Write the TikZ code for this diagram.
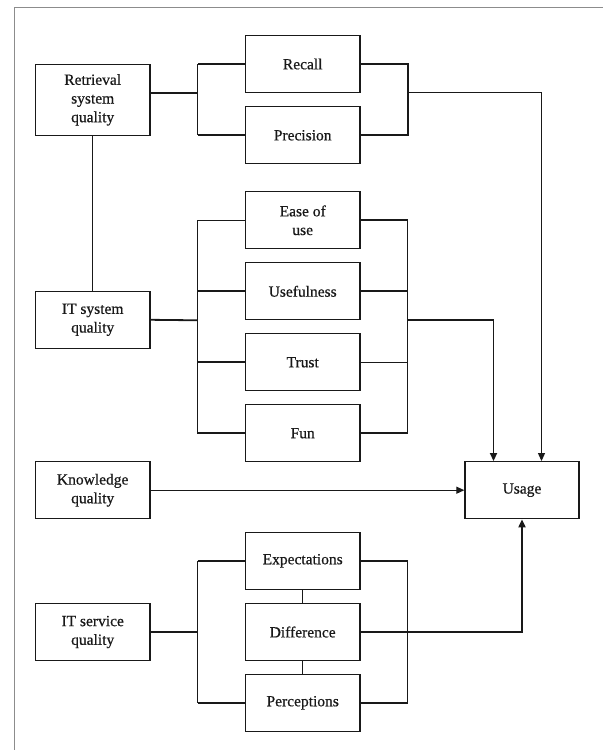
\documentclass[tikz,border=0pt]{standalone}
\usepackage{fontspec}
\setmainfont[FakeBold=0.5]{Liberation Serif}
\newfontfamily\boxfont[FakeBold=0.6]{Liberation Serif}
\usetikzlibrary{arrows.meta}
\begin{document}
\begin{tikzpicture}[x=1pt,y=1pt,
  box/.style={draw=black!90,line width=1.3pt,minimum width=114.6pt,minimum height=57pt,inner sep=1pt,align=center,
    font=\boxfont\fontsize{15.5pt}{18.7pt}\selectfont,text=black!90},
  thk/.style={line width=1.8pt,draw=black!90},
  thn/.style={line width=1.1pt,draw=black!90},
  arr/.style={-{Triangle[length=8pt,width=7pt]}}]
\useasboundingbox (0,0) rectangle (603,-750);
\fill[white] (0,0) rectangle (603,-750);
\draw[line width=1pt,draw=black!45] (14.6,-750) -- (14.6,-7.3) -- (603,-7.3);
% left boxes
\node[box,minimum height=71pt] (ret) at (92.7,-99.8) {Retrieval\\system\\quality};
\node[box] (itsys) at (92.7,-319.8) {IT system\\quality};
\node[box] (know) at (92.7,-490.2) {Knowledge\\quality};
\node[box] (itserv) at (92.7,-632) {IT service\\quality};
% middle boxes
\node[box] (recall) at (302.7,-64) {Recall};
\node[box] (prec) at (302.7,-135.3) {Precision};
\node[box] (ease) at (302.7,-220.3) {Ease of\\use};
\node[box] (useful) at (302.7,-291.3) {Usefulness};
\node[box] (trust) at (302.7,-362.3) {Trust};
\node[box] (fun) at (302.7,-433.2) {Fun};
\node[box] (expect) at (302.7,-560.8) {Expectations};
\node[box] (diff) at (302.7,-632) {Difference};
\node[box] (perc) at (302.7,-702.8) {Perceptions};
% usage
\node[box,minimum width=114pt] (usage) at (522,-490.2) {Usage};
% bracket coordinates
\coordinate (b1l) at (197.7,-92.7);
\coordinate (b1r) at (407.7,-92.7);
\coordinate (b2l) at (197.7,-320.3);
\coordinate (b2r) at (407.7,-320.3);
\coordinate (b3l) at (197.7,-632);
\coordinate (b3r) at (407.7,-632);
% group 1
\draw[thk] ([yshift=7.1pt]ret.east) -- (b1l);
\draw[thn] (b1l |- recall.west) -- (b1l |- prec.west);
\draw[thk] (recall.west) -- (b1l |- recall.west);
\draw[thk] (prec.west) -- (b1l |- prec.west);
\draw[thk] (recall.east) -| (b1r) |- (prec.east);
\draw[thn,arr] (b1r) -| ([xshift=19.5pt]usage.north);
\draw[thn] (ret.south) -- (itsys.north);
% group 2
\draw[thk] (itsys.east) -- (b2l);
\draw[thn] (ease.west) -| (b2l) |- (fun.west);
\draw[thk] (useful.west) -- (b2l |- useful.west);
\draw[thk] (trust.west) -- (b2l |- trust.west);
\draw[thk] (fun.west) -- (b2l |- fun.west);
\draw[thn] (b2r |- ease.east) -- (b2r |- fun.east);
\draw[thk] (ease.east) -- (b2r |- ease.east);
\draw[thk] (useful.east) -- (b2r |- useful.east);
\draw[thn] (trust.east) -- (b2r |- trust.east);
\draw[thk] (fun.east) -- (b2r |- fun.east);
\draw[thk,arr] (b2r) -| ([xshift=-28.5pt]usage.north);
% knowledge
\draw[thn,arr] (know.east) -- (usage.west);
% group 3
\draw[thn] (itserv.east) -- (b3l);
\draw[thn] (b3l |- expect.west) -- (b3l |- perc.west);
\draw[thk] (expect.west) -- (b3l |- expect.west);
\draw[thk] (perc.west) -- (b3l |- perc.west);
\draw[thn] (b3r |- expect.east) -- (b3r |- perc.east);
\draw[thk] (expect.east) -- (b3r |- expect.east);
\draw[thk] (perc.east) -- (b3r |- perc.east);
\draw[thn] (expect.south) -- (diff.north);
\draw[thn] (diff.south) -- (perc.north);
\draw[thk,arr] (diff.east) -| (usage.south);
\end{tikzpicture}
\end{document}
